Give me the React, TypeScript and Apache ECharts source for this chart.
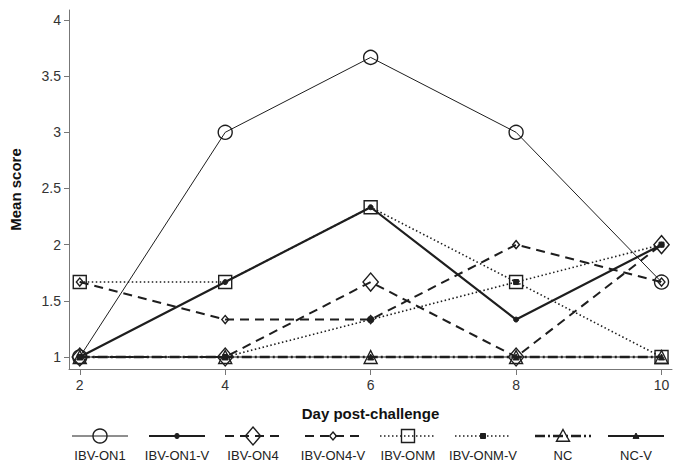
import React, { useEffect, useRef } from "react";
import * as echarts from "echarts";

const days = [2, 4, 6, 8, 10];
const yTicks = [1, 1.5, 2, 2.5, 3, 3.5, 4];

const ibvOn1 = [1, 3, 3.667, 3, 1.667];
const ibvOn1V = [1, 1.667, 2.333, 1.333, 2];
const ibvOn4 = [1, 1, 1.667, 1, 2];
const ibvOn4V = [1.667, 1.333, 1.333, 2, 1.667];
const ibvOnm = [1.667, 1.667, 2.333, 1.667, 1];
const ibvOnmV = [1, 1, 1.333, 1.667, 2];
const nc = [1, 1, 1, 1, 1];
const ncV = [1, 1, 1, 1, 1];

const FONT = "Liberation Sans, Arial, Helvetica, sans-serif";
const INK = "#1e1e1e";

type Spec = {
  name: string;
  data: number[];
  width: number;
  dash: number[] | "solid";
  symbol: string;
  size: number;
  filled: boolean;
  z: number;
  lineWidthPlot?: number;
};

const specs: Spec[] = [
  { name: "IBV-ON1", data: ibvOn1, width: 1, dash: "solid", symbol: "circle", size: 14, filled: false, z: 3 },
  { name: "IBV-ON1-V", data: ibvOn1V, width: 2.2, dash: "solid", symbol: "circle", size: 5, filled: true, z: 4 },
  { name: "IBV-ON4", data: ibvOn4, width: 2, dash: [9, 6], symbol: "diamond", size: 18, filled: false, z: 3 },
  { name: "IBV-ON4-V", data: ibvOn4V, width: 2, dash: [9, 6], symbol: "diamond", size: 8, filled: false, z: 4 },
  { name: "IBV-ONM", data: ibvOnm, width: 1.6, dash: [1.5, 2.5], symbol: "rect", size: 13, filled: false, z: 3 },
  { name: "IBV-ONM-V", data: ibvOnmV, width: 1.6, dash: [1.5, 2.5], symbol: "rect", size: 5, filled: true, z: 4 },
  { name: "NC", data: nc, width: 2.4, dash: [10, 3, 2, 3], symbol: "triangle", size: 13, filled: false, z: 5 },
  { name: "NC-V", data: ncV, width: 2.2, dash: "solid", symbol: "triangle", size: 6, filled: true, z: 2, lineWidthPlot: 1.2 },
];

const legendCenters = [100, 177, 253, 333, 408, 483, 563, 636];

function legendSymbol(s: Spec, cx: number, cy: number): any {
  const style = {
    fill: s.filled ? INK : "rgba(255,255,255,0)",
    stroke: INK,
    lineWidth: s.filled ? 1 : 1.4,
  };
  const h = s.size / 2;
  if (s.symbol === "circle") return { type: "circle", shape: { cx, cy, r: h }, style };
  if (s.symbol === "rect") return { type: "rect", shape: { x: cx - h, y: cy - h, width: s.size, height: s.size }, style };
  if (s.symbol === "diamond")
    return { type: "polygon", shape: { points: [[cx, cy - h], [cx + h * 0.85, cy], [cx, cy + h], [cx - h * 0.85, cy]] }, style };
  return { type: "polygon", shape: { points: [[cx, cy - h], [cx + h, cy + h * 0.8], [cx - h, cy + h * 0.8]] }, style };
}

export default function App() {
  const ref = useRef<HTMLDivElement>(null);
  useEffect(() => {
    if (!ref.current) return;
    const chart = echarts.init(ref.current, undefined, { renderer: "svg" });

    const legendGraphics: any[] = [];
    specs.forEach((s, i) => {
      const cx = legendCenters[i];
      const cy = 436;
      legendGraphics.push({
        type: "line",
        shape: { x1: cx - 28, y1: cy, x2: cx + 28, y2: cy },
        style: { stroke: INK, lineWidth: s.width, lineDash: s.dash === "solid" ? null : s.dash },
      });
      legendGraphics.push(legendSymbol(s, cx, cy));
      legendGraphics.push({
        type: "text",
        x: cx,
        y: 455,
        style: { text: s.name, fill: "#222", font: `13px ${FONT}`, align: "center", verticalAlign: "middle" },
      });
    });

    chart.setOption({
      animation: false,
      backgroundColor: "#fff",
      grid: { left: 66.5, right: 10, top: 10, bottom: 93 },
      xAxis: {
        type: "value",
        min: 1.852,
        max: 10.144,
        name: "Day post-challenge",
        nameLocation: "middle",
        nameGap: 37,
        nameTextStyle: { fontFamily: FONT, fontWeight: "bold", fontSize: 15, color: "#111" },
        axisLine: { show: true, lineStyle: { color: "#777", width: 1 } },
        axisTick: { show: true, length: 6, lineStyle: { color: "#777" }, customValues: days },
        axisLabel: { fontFamily: FONT, fontSize: 14, color: "#333", margin: 9, customValues: days },
        splitLine: { show: false },
      },
      yAxis: {
        type: "value",
        min: 0.893,
        max: 4.089,
        name: "Mean score",
        nameLocation: "middle",
        nameGap: 46,
        nameTextStyle: { fontFamily: FONT, fontWeight: "bold", fontSize: 15, color: "#111" },
        axisLine: { show: true, lineStyle: { color: "#777", width: 1 } },
        axisTick: { show: true, length: 5, lineStyle: { color: "#777" }, customValues: yTicks },
        axisLabel: { fontFamily: FONT, fontSize: 14, color: "#333", margin: 8, customValues: yTicks },
        splitLine: { show: false },
      },
      series: specs.map((s) => ({
        name: s.name,
        type: "line",
        z: s.z,
        data: days.map((d, i) => [d, s.data[i]]),
        symbol: s.symbol,
        symbolSize: s.symbol === "diamond" ? [s.size * 0.85, s.size] : s.size,
        showSymbol: true,
        lineStyle: { color: INK, width: s.lineWidthPlot ?? s.width, type: s.dash },
        itemStyle: {
          color: s.filled ? INK : "rgba(255,255,255,0)",
          borderColor: INK,
          borderWidth: s.filled ? 1 : 1.4,
        },
        emphasis: { disabled: true },
      })),
      graphic: legendGraphics,
    });

    return () => chart.dispose();
  }, []);

  return (
    <div
      ref={ref}
      style={{ position: "fixed", left: 0, top: 0, width: 682, height: 462, background: "#fff" }}
    />
  );
}
